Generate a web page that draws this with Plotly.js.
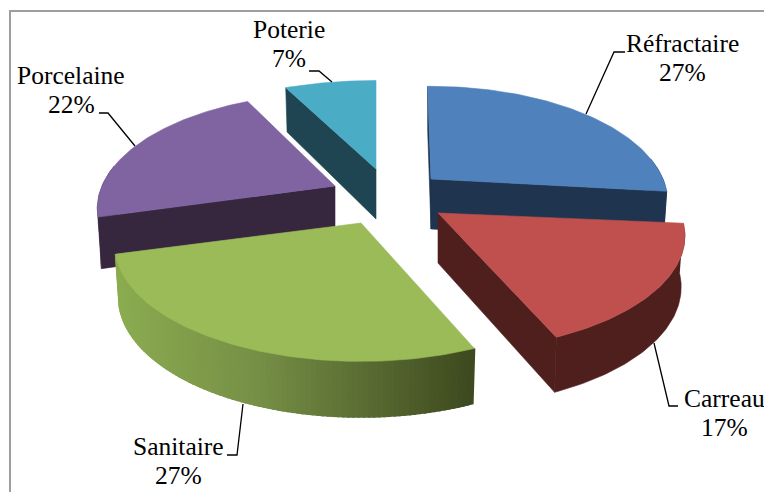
<!DOCTYPE html>
<html>
<head>
<meta charset="utf-8">
<script src="https://cdn.plot.ly/plotly-3.0.1.min.js"></script>
<style>html,body{margin:0;padding:0;background:#fff}#chart{width:764px;height:492px}</style>
</head>
<body>
<div id="chart"></div>
<script>
// Data
const categories = ['Réfractaire', 'Carreau', 'Sanitaire', 'Porcelaine', 'Poterie'];
const shares = [27, 17, 27, 22, 7];

// Styles
const topColors = ['#4F81BD', '#C0504D', '#9BBB59', '#8064A2', '#4BACC6'];
const sideColors = ['#1F344F', '#4F1F1D', null, '#36273F', '#1F4552'];

// 3D projection of the exploded pie
const startAngle = -1, persp = 0.198, depth = 50, bottomScale = 0.985;
const apexX = [431, 438, 361, 335, 376];
const apexY = [179, 213, 223, 186, 169];
const radiusX = [232, 242, 241, 233, 250];
const radiusY = [111, 111, 111, 111, 106];
const angleShift = [0, -1, 0, 0, 1];
const drawOrder = [4, 0, 3, 1, 2];
const cutFaces = [[true, true], [false, true], [false, false], [true, false], [true, false]];

function rim(i, deg) {
  const t = deg * Math.PI / 180, u = Math.sin(t), v = -Math.cos(t), d = 1 - persp * v;
  const px = radiusX[i] * u / d, py = radiusY[i] * v / d;
  return {
    v: v,
    x: apexX[i] + px, y: apexY[i] + py,
    bx: apexX[i] + bottomScale * px,
    by: apexY[i] + bottomScale * py + depth * (1 + 0.15 * v)
  };
}
function poly(xs, ys, color, width) {
  return {type: 'scatter', mode: 'lines', x: xs, y: ys, fill: 'toself', fillcolor: color,
    line: {color: color, width: width === undefined ? 0.6 : width}, hoverinfo: 'skip', showlegend: false};
}
function mix(a, b, f) {
  return 'rgb(' + a.map((c, k) => Math.round(c + (b[k] - c) * f)).join(',') + ')';
}

const total = shares.reduce((a, b) => a + b, 0);
let acc = startAngle;
const ranges = shares.map((s, i) => {
  const r = [acc + angleShift[i], acc + s / total * 360 + angleShift[i]];
  acc += s / total * 360;
  return r;
});

const traces = [];
drawOrder.forEach(i => {
  const [a0, a1] = ranges[i];
  const steps = Math.max(8, Math.round(a1 - a0));
  const arc = [];
  for (let k = 0; k <= steps; k++) arc.push(rim(i, a0 + (a1 - a0) * k / steps));
  const ax = apexX[i], ay = apexY[i];

  [arc[0], arc[steps]].forEach((p, k) => {
    if (cutFaces[i][k]) {
      traces.push(poly([ax, p.x, p.bx, ax, ax], [ay, p.y, p.by, ay + depth, ay], sideColors[i]));
    }
  });

  // only the part of the outer wall that faces the viewer
  const front = arc.filter(p => p.v > -0.2);
  if (front.length > 1) {
    if (sideColors[i]) {
      const wx = front.map(p => p.x).concat(front.map(p => p.bx).reverse());
      const wy = front.map(p => p.y).concat(front.map(p => p.by).reverse());
      traces.push(poly(wx, wy, sideColors[i]));
    } else {
      // shaded wall running from light olive on the left to dark olive on the right
      const light = [139, 172, 80], mid = [118, 143, 70], dark = [62, 74, 31];
      for (let k = 0; k < front.length - 1; k++) {
        const p = front[front.length - 2 - k], q = front[front.length - 1 - k];
        const f = ((p.x + q.x) / 2 - 117) / (472 - 117);
        const color = f < 0.4 ? mix(light, mid, f / 0.4) : mix(mid, dark, (f - 0.4) / 0.6);
        traces.push(poly([p.x, q.x, q.bx, p.bx, p.x], [p.y, q.y, q.by, p.by, p.y], color, 2));
      }
    }
  }

  traces.push(poly([ax].concat(arc.map(p => p.x), [ax]), [ay].concat(arc.map(p => p.y), [ay]), topColors[i]));
});

const nameX = [682, 724, 178, 71, 289];
const nameY = [43, 398, 446, 75, 29];
const lineGap = 29.5;
const labelFont = {family: '"Liberation Serif", serif', size: 25.5, color: '#000'};
const annotations = [];
categories.forEach((c, i) => {
  annotations.push({xref: 'x', yref: 'y', x: nameX[i], y: nameY[i], xanchor: 'center', yanchor: 'middle',
    text: c, showarrow: false, font: labelFont});
  annotations.push({xref: 'x', yref: 'y', x: nameX[i], y: nameY[i] + lineGap, xanchor: 'center', yanchor: 'middle',
    text: shares[i] + '%', showarrow: false, font: labelFont});
});

const leaders = [
  'M586,114 L614,52 L625,52',
  'M654,343 L669,406 L678,406',
  'M243,404 L237,455 L227,455',
  'M135,146 L108,113 L99,113',
  'M332,82 L319,71 L309,71'
];
const shapes = leaders.map(path => ({type: 'path', xref: 'x', yref: 'y', path: path, line: {color: '#000', width: 1.3}, layer: 'above'}));
shapes.push({type: 'path', xref: 'x', yref: 'y', path: 'M10,492 L10,11 L764,11', line: {color: '#9E9E9E', width: 2}, layer: 'below'});

Plotly.newPlot('chart', traces, {
  width: 764, height: 492,
  margin: {l: 0, r: 0, t: 0, b: 0},
  paper_bgcolor: '#fff', plot_bgcolor: '#fff',
  showlegend: false,
  xaxis: {range: [0, 764], visible: false, fixedrange: true},
  yaxis: {range: [492, 0], visible: false, fixedrange: true},
  annotations: annotations,
  shapes: shapes
}, {displayModeBar: false, staticPlot: true});
</script>
</body>
</html>
